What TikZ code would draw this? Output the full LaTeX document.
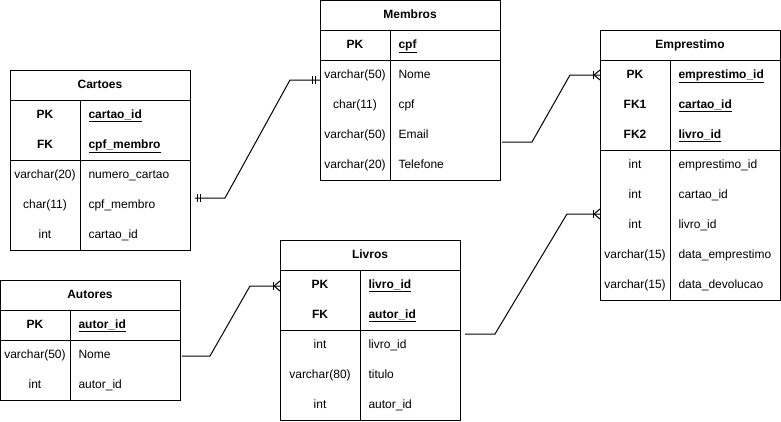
\documentclass[tikz,border=0pt]{standalone}
\usepackage{fontspec}
\setmainfont{Liberation Sans}
\usepackage{tikz}

\tikzset{
  tbl/.style={draw, inner sep=0pt, anchor=north west},
  txt/.style={inner sep=0pt, text height=6.5pt, text depth=1.8pt, font=\fontsize{9}{11}\selectfont},
  ttl/.style={txt, font=\fontsize{9}{11}\selectfont\bfseries},
  keyc/.style={txt, font=\fontsize{9}{11}\selectfont\bfseries},
  keyf/.style={txt, anchor=west, font=\fontsize{9}{11}\selectfont\bfseries},
  typ/.style={txt},
  fld/.style={txt, anchor=west},
}

\begin{document}
\begin{tikzpicture}[x=0.75pt, y=-0.75pt, line width=0.75pt]

    \useasboundingbox (0,0) rectangle (781,421);

    % Cartoes
    \node[tbl, minimum width=135pt, minimum height=135pt] (cartoes) at (10,70) {};
    \draw (10,100) -- (190,100);
    \draw (10,160) -- (190,160);
    \draw (80,100) -- (80,250);
    \node[ttl] (cartoes-t) at (100,85) {Cartoes};
    \node[keyc] (cartoes-k1) at (45,115) {PK};
    \node[keyf] (cartoes-f1) at (88,115) {\underline{cartao\_id}};
    \node[keyc] (cartoes-k2) at (45,145) {FK};
    \node[keyf] (cartoes-f2) at (88,145) {\underline{cpf\_membro}};
    \node[typ] (cartoes-t3) at (45,175) {varchar(20)};
    \node[fld] (cartoes-f3) at (88,175) {numero\_cartao};
    \node[typ] (cartoes-t4) at (45,205) {char(11)};
    \node[fld] (cartoes-f4) at (88,205) {cpf\_membro};
    \node[typ] (cartoes-t5) at (45,235) {int};
    \node[fld] (cartoes-f5) at (88,235) {cartao\_id};

    % Membros
    \node[tbl, minimum width=135pt, minimum height=135pt] (membros) at (320,0) {};
    \draw (320,30) -- (500,30);
    \draw (320,60) -- (500,60);
    \draw (390,30) -- (390,180);
    \node[ttl] (membros-t) at (410,15) {Membros};
    \node[keyc] (membros-k1) at (355,45) {PK};
    \node[keyf] (membros-f1) at (398,45) {\underline{cpf}};
    \node[typ] (membros-t2) at (355,75) {varchar(50)};
    \node[fld] (membros-f2) at (398,75) {Nome};
    \node[typ] (membros-t3) at (355,105) {char(11)};
    \node[fld] (membros-f3) at (398,105) {cpf};
    \node[typ] (membros-t4) at (355,135) {varchar(50)};
    \node[fld] (membros-f4) at (398,135) {Email};
    \node[typ] (membros-t5) at (355,165) {varchar(20)};
    \node[fld] (membros-f5) at (398,165) {Telefone};

    % Emprestimo
    \node[tbl, minimum width=135pt, minimum height=202.5pt] (emprestimo) at (600,30) {};
    \draw (600,60) -- (780,60);
    \draw (600,150) -- (780,150);
    \draw (670,60) -- (670,300);
    \node[ttl] (emprestimo-t) at (690,45) {Emprestimo};
    \node[keyc] (emprestimo-k1) at (635,75) {PK};
    \node[keyf] (emprestimo-f1) at (678,75) {\underline{emprestimo\_id}};
    \node[keyc] (emprestimo-k2) at (635,105) {FK1};
    \node[keyf] (emprestimo-f2) at (678,105) {\underline{cartao\_id}};
    \node[keyc] (emprestimo-k3) at (635,135) {FK2};
    \node[keyf] (emprestimo-f3) at (678,135) {\underline{livro\_id}};
    \node[typ] (emprestimo-t4) at (635,165) {int};
    \node[fld] (emprestimo-f4) at (678,165) {emprestimo\_id};
    \node[typ] (emprestimo-t5) at (635,195) {int};
    \node[fld] (emprestimo-f5) at (678,195) {cartao\_id};
    \node[typ] (emprestimo-t6) at (635,225) {int};
    \node[fld] (emprestimo-f6) at (678,225) {livro\_id};
    \node[typ] (emprestimo-t7) at (635,255) {varchar(15)};
    \node[fld] (emprestimo-f7) at (678,255) {data\_emprestimo};
    \node[typ] (emprestimo-t8) at (635,285) {varchar(15)};
    \node[fld] (emprestimo-f8) at (678,285) {data\_devolucao};

    % Livros
    \node[tbl, minimum width=135pt, minimum height=135pt] (livros) at (280,240) {};
    \draw (280,270) -- (460,270);
    \draw (280,330) -- (460,330);
    \draw (360,270) -- (360,420);
    \node[ttl] (livros-t) at (370,255) {Livros};
    \node[keyc] (livros-k1) at (320,285) {PK};
    \node[keyf] (livros-f1) at (368,285) {\underline{livro\_id}};
    \node[keyc] (livros-k2) at (320,315) {FK};
    \node[keyf] (livros-f2) at (368,315) {\underline{autor\_id}};
    \node[typ] (livros-t3) at (320,345) {int};
    \node[fld] (livros-f3) at (368,345) {livro\_id};
    \node[typ] (livros-t4) at (320,375) {varchar(80)};
    \node[fld] (livros-f4) at (368,375) {titulo};
    \node[typ] (livros-t5) at (320,405) {int};
    \node[fld] (livros-f5) at (368,405) {autor\_id};

    % Autores
    \node[tbl, minimum width=135pt, minimum height=90pt] (autores) at (0,280) {};
    \draw (0,310) -- (180,310);
    \draw (0,340) -- (180,340);
    \draw (70,310) -- (70,400);
    \node[ttl] (autores-t) at (90,295) {Autores};
    \node[keyc] (autores-k1) at (35,325) {PK};
    \node[keyf] (autores-f1) at (78,325) {\underline{autor\_id}};
    \node[typ] (autores-t2) at (35,355) {varchar(50)};
    \node[fld] (autores-f2) at (78,355) {Nome};
    \node[typ] (autores-t3) at (35,385) {int};
    \node[fld] (autores-f3) at (78,385) {autor\_id};

    % Relationship end points
    \coordinate (cm-s) at (195,198);
    \coordinate (cm-e) at (320,80);
    \coordinate (me-s) at (502,142);
    \coordinate (me-e) at (600,75);
    \coordinate (le-s) at (465,334);
    \coordinate (le-e) at (600,214);
    \coordinate (al-s) at (182,356);
    \coordinate (al-e) at (280,286);

    % Cartoes -- Membros
    \draw (cm-s) -- ++(30,0) -- ++(65,-118) -- (cm-e);
    \draw (cm-s) ++(2,-4) -- ++(0,8) ++(3,0) -- ++(0,-8);
    \draw (cm-e) ++(-8,-4) -- ++(0,8) ++(3,0) -- ++(0,-8);

    % Membros -- Emprestimo
    \draw (me-s) -- ++(30,0) -- ++(38,-67) -- (me-e);

    % Livros -- Emprestimo
    \draw (le-s) -- ++(30,0) -- ++(72,-120) -- (le-e);

    % Autores -- Livros
    \draw (al-s) -- ++(28,0) -- ++(40,-70) -- (al-e);

    % Crow's feet
    \foreach \c in {me-e, le-e, al-e} {
        \draw (\c) ++(-7,-4) -- ++(0,8);
        \draw (\c) ++(0,-5) -- ++(-6,5) -- ++(6,5);
    }

\end{tikzpicture}
\end{document}
